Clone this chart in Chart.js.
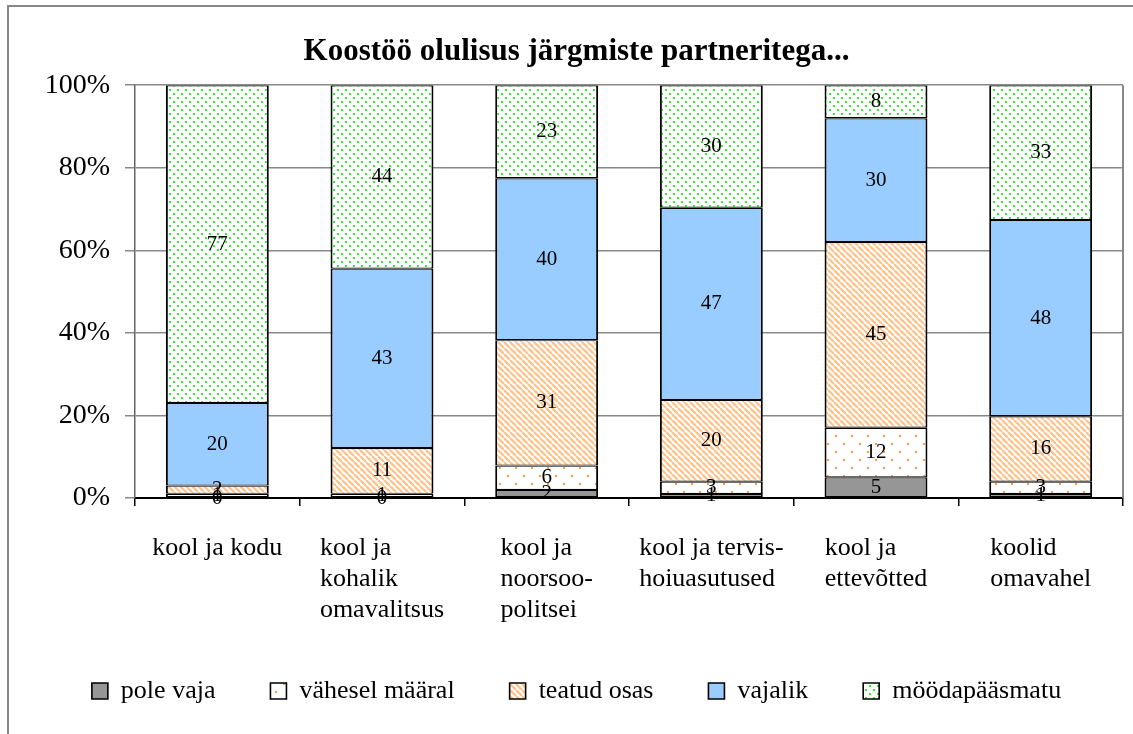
<!DOCTYPE html>
<html>
<head>
<meta charset="utf-8">
<script src="https://cdn.jsdelivr.net/npm/chart.js@4"></script>
<style>
  html, body { margin: 0; padding: 0; background: #fff; }
  #wrap { width: 1133px; height: 734px; position: relative; }
</style>
</head>
<body>
<div id="wrap"><canvas id="chart"></canvas></div>
<script>
// Data (raw counts, bars are drawn as share of each total)
const categories = [
  ['kool ja kodu'],
  ['kool ja', 'kohalik', 'omavalitsus'],
  ['kool ja', 'noorsoo-', 'politsei'],
  ['kool ja tervis-', 'hoiuasutused'],
  ['kool ja', 'ettevõtted'],
  ['koolid', 'omavahel']
];
const seriesNames = ['pole vaja', 'vähesel määral', 'teatud osas', 'vajalik', 'möödapääsmatu'];
const poleVaja      = [0, 0, 2, 1, 5, 1];
const vaheselMaaral = [1, 1, 6, 3, 12, 3];
const teatudOsas    = [2, 11, 31, 20, 45, 16];
const vajalik       = [20, 43, 40, 47, 30, 48];
const moodapaasmatu = [77, 44, 23, 30, 8, 33];
const yTickLabels = ['0%', '20%', '40%', '60%', '80%', '100%'];

const FONT = '"Liberation Serif", "Times New Roman", serif';

document.addEventListener('DOMContentLoaded', function () {
  const canvas = document.getElementById('chart');
  const ctx = canvas.getContext('2d');

  // Patterns
  function makePattern(w, h, draw) {
    const c = document.createElement('canvas');
    c.width = w; c.height = h;
    const g = c.getContext('2d');
    g.fillStyle = '#fff';
    g.fillRect(0, 0, w, h);
    draw(g);
    return ctx.createPattern(c, 'repeat');
  }
  const sparseOrangeDots = makePattern(16, 16, g => {
    g.fillStyle = '#ff9a4a';
    g.fillRect(3, 3, 2, 2);
    g.fillRect(11, 11, 2, 2);
  });
  const orangeStripes = makePattern(6, 6, g => {
    g.strokeStyle = '#ffc48e';
    g.lineWidth = 2.3;
    [-6, 0, 6].forEach(k => {
      g.beginPath();
      g.moveTo(k, 0);
      g.lineTo(k + 6, 6);
      g.stroke();
    });
  });
  const greenDots = makePattern(8, 8, g => {
    g.fillStyle = '#33ee33';
    g.fillRect(1, 1, 2, 2);
    g.fillRect(5, 5, 2, 2);
  });

  const rawSeries = [poleVaja, vaheselMaaral, teatudOsas, vajalik, moodapaasmatu];
  const fills = ['#969696', sparseOrangeDots, orangeStripes, '#99ccff', greenDots];
  const totals = categories.map((_, i) => rawSeries.reduce((s, arr) => s + arr[i], 0));

  const datasets = rawSeries.map((arr, si) => ({
    label: seriesNames[si],
    raw: arr,
    data: arr.map((v, i) => v / totals[i] * 100),
    backgroundColor: fills[si],
    borderColor: '#000',
    borderWidth: { top: 1.2, bottom: 1.2, left: 2, right: 2 },
    borderSkipped: false,
    barPercentage: 0.625,
    categoryPercentage: 1
  }));

  // Frame + white background
  const frame = {
    id: 'frame',
    beforeDraw(chart) {
      const c = chart.ctx;
      c.save();
      c.fillStyle = '#fff';
      c.fillRect(0, 0, chart.width, chart.height);
      c.strokeStyle = '#888';
      c.lineWidth = 2;
      c.strokeRect(8, 6, chart.width + 100, chart.height + 100);
      c.restore();
    },
    beforeDatasetsDraw(chart) {
      const a = chart.chartArea;
      const c = chart.ctx;
      c.save();
      c.strokeStyle = '#888';
      c.lineWidth = 2;
      c.beginPath();
      c.moveTo(a.right, a.top);
      c.lineTo(a.right, a.bottom);
      c.stroke();
      c.restore();
    }
  };

  // Numbers inside the segments
  const valueLabels = {
    id: 'valueLabels',
    afterDatasetsDraw(chart) {
      const c = chart.ctx;
      c.save();
      c.font = '21px ' + FONT;
      c.fillStyle = '#000';
      c.textAlign = 'center';
      c.textBaseline = 'middle';
      chart.data.datasets.forEach((ds, di) => {
        chart.getDatasetMeta(di).data.forEach((bar, i) => {
          const p = bar.getProps(['x', 'y', 'base'], true);
          c.fillText(String(ds.raw[i]), p.x, (p.y + p.base) / 2);
        });
      });
      c.restore();
    }
  };

  // Category labels: left aligned lines, block centred under the bar
  const categoryLabels = {
    id: 'categoryLabels',
    afterDraw(chart) {
      const xs = chart.scales.x;
      const c = chart.ctx;
      c.save();
      c.font = '26px ' + FONT;
      c.fillStyle = '#000';
      c.textAlign = 'left';
      c.textBaseline = 'middle';
      categories.forEach((lines, i) => {
        const cx = xs.getPixelForTick(i);
        const w = Math.max(...lines.map(l => c.measureText(l).width));
        lines.forEach((l, k) => c.fillText(l, cx - w / 2, xs.top + 50 + k * 31));
      });
      c.restore();
    }
  };

  new Chart(ctx, {
    type: 'bar',
    data: { labels: categories, datasets: datasets },
    plugins: [frame, valueLabels, categoryLabels],
    options: {
      responsive: true,
      maintainAspectRatio: false,
      animation: false,
      layout: { padding: { top: 20, left: 30, right: 10, bottom: 20 } },
      plugins: {
        title: {
          display: true,
          text: 'Koostöö olulisus järgmiste partneritega...',
          color: '#000',
          font: { family: FONT, size: 31, weight: 'bold' },
          padding: { top: 13, bottom: 15 }
        },
        legend: {
          position: 'bottom',
          labels: {
            color: '#000',
            font: { family: FONT, size: 26 },
            boxWidth: 16,
            boxHeight: 16,
            padding: 55
          }
        },
        tooltip: { enabled: false }
      },
      scales: {
        x: {
          stacked: true,
          ticks: { display: false },
          grid: { offset: true, drawOnChartArea: false, tickLength: 8, color: '#000', lineWidth: 1.5 },
          border: { color: '#000', width: 2 },
          afterFit: s => { s.height = 125; }
        },
        y: {
          stacked: true,
          min: 0,
          max: 100,
          ticks: {
            stepSize: 20,
            color: '#000',
            padding: 15,
            font: { family: FONT, size: 28 },
            callback: v => yTickLabels[v / 20]
          },
          grid: { color: '#888', lineWidth: 1.5, tickLength: 10 },
          border: { color: '#666', width: 1.5 },
          afterFit: s => { s.width = 105; }
        }
      }
    }
  });
});
</script>
</body>
</html>
